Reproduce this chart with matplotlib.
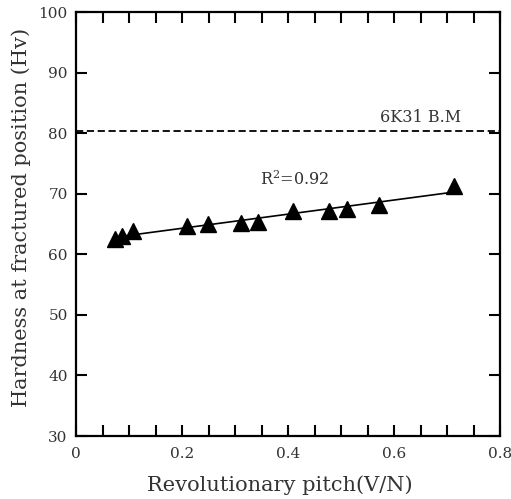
import numpy as np
import matplotlib.pyplot as plt
from matplotlib.ticker import MultipleLocator

pitch = [0.074, 0.086, 0.108, 0.209, 0.249, 0.311, 0.344, 0.410, 0.477, 0.511, 0.572, 0.713]
hardness = [62.6, 63.1, 63.8, 64.6, 65.0, 65.2, 65.4, 67.2, 67.2, 67.5, 68.1, 71.2]
base_metal = 80.3
base_label = '6K31 B.M'
r2_label = 'R$^2$=0.92'

plt.rcParams['font.family'] = ['DejaVu Serif']
plt.rcParams['mathtext.fontset'] = 'dejavuserif'

fig = plt.figure(figsize=(5.11, 4.99), dpi=100)
ax = fig.add_axes([76 / 511, 63 / 499, 424 / 511, 424 / 499])

# linear fit through the points
k, b = np.polyfit(pitch, hardness, 1)
xs = np.array([min(pitch), max(pitch)])
ax.plot(xs, k * xs + b, color='black', lw=1.2, zorder=2)
ax.plot(pitch, hardness, linestyle='none', marker='^', ms=11, color='black', zorder=3)

ax.axhline(base_metal, color='black', lw=1.3, ls=(0, (4, 2)))
ax.text(0.574, 82.6, base_label, fontsize=11.5, va='center', ha='left', color='#333333')
ax.text(0.347, 72.3, r2_label, fontsize=11.5, va='center', ha='left', color='#333333')

ax.set_xlim(0, 0.8)
ax.set_ylim(30, 100)
ax.xaxis.set_minor_locator(MultipleLocator(0.05))
ax.yaxis.set_major_locator(MultipleLocator(10))
ax.set_xticks([0, 0.2, 0.4, 0.6, 0.8])
ax.set_xticklabels(['0', '0.2', '0.4', '0.6', '0.8'])
ax.tick_params(which='both', direction='in', top=True, right=True, length=8, width=1.5,
               labelsize=11, labelcolor='#333333')
ax.tick_params(axis='x', pad=8)
ax.tick_params(axis='y', pad=6)

for s in ax.spines.values():
    s.set_linewidth(1.6)

ax.set_xlabel('Revolutionary pitch(V/N)', fontsize=15, color='#333333')
ax.set_ylabel('Hardness at fractured position (Hv)', fontsize=15, color='#333333')
ax.xaxis.set_label_coords(0.48, -0.093)
ax.yaxis.set_label_coords(-0.107, 0.515)

fig.savefig('out.png', dpi=100)
